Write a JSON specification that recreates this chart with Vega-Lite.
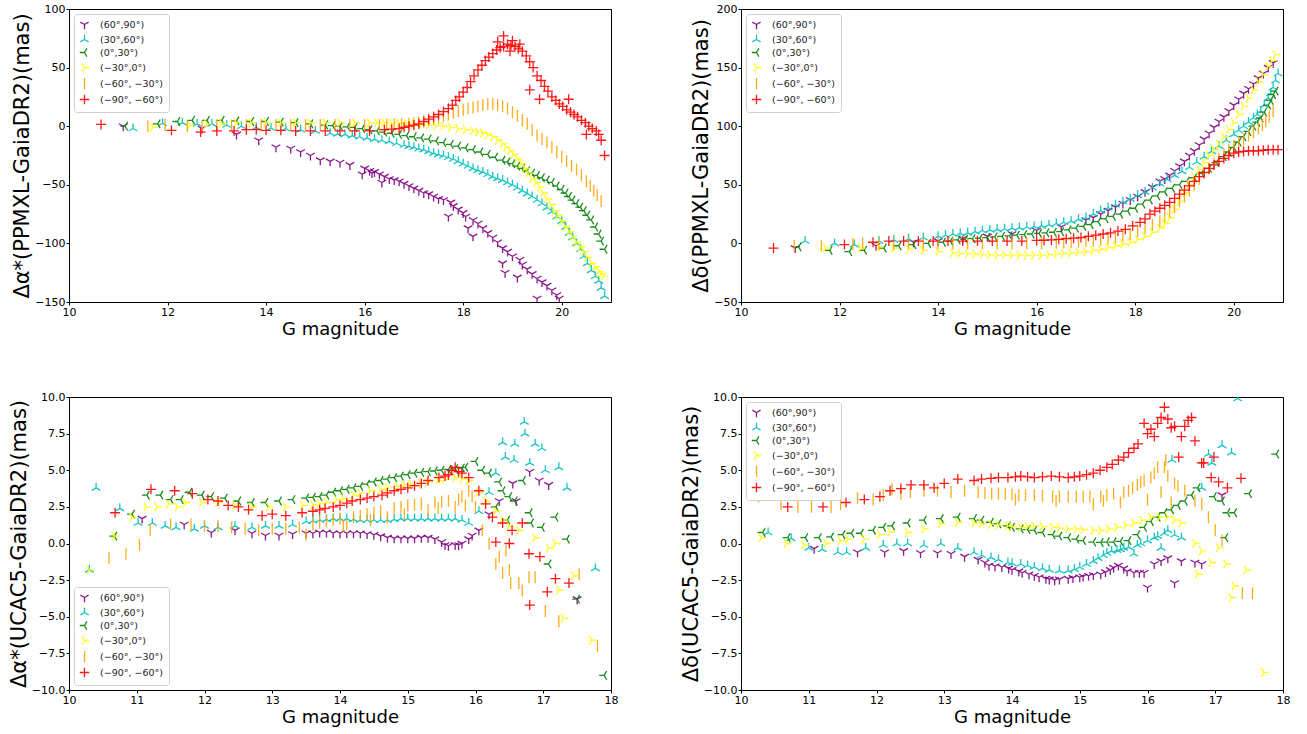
{
"$schema":"https://vega.github.io/schema/vega-lite/v6.json",
"padding":{"left":7,"top":2,"right":5,"bottom":5},
"columns":2,
"spacing":{"row":95,"column":130},
"bounds":"flush",
"resolve":{"scale":{"color":"independent","shape":"independent"},"legend":{"color":"independent","shape":"independent"}},
"config":{
"font":"DejaVu Sans",
"view":{"stroke":"black","strokeWidth":1},
"axis":{"grid":false,"domainColor":"black","tickColor":"black","labelColor":"black","titleColor":"black","labelFontSize":11,"titleFontWeight":"normal","tickSize":3,"labelPadding":1,"labelFlush":false,"labelOverlap":false},
"axisX":{"titleFontSize":18,"titlePadding":3},
"axisY":{"titleFontSize":21,"titlePadding":2},
"legend":{"fillColor":"white","strokeColor":"#d0d0d0","cornerRadius":3,"padding":5,"offset":5,"labelFontSize":9.5,"symbolSize":90,"rowPadding":0,"labelOffset":10,"symbolStrokeWidth":1.3,"labelColor":"#222"}
},
"concat":[
{
"width":542,"height":293,
"data":{"values":[
{"r":1,"g":11.1,"v":0},{"r":1,"g":12.7,"v":-2},{"r":1,"g":13.4,"v":-7},{"r":1,"g":13.85,"v":-12},{"r":1,"g":14.2,"v":-18},{"r":1,"g":14.5,"v":-19},{"r":1,"g":14.7,"v":-22},{"r":1,"g":14.9,"v":-25},{"r":1,"g":15.1,"v":-29},{"r":1,"g":15.3,"v":-30},{"r":1,"g":15.5,"v":-31},{"r":1,"g":15.7,"v":-33},{"r":1,"g":15.95,"v":-41},{"r":1,"g":16.15,"v":-40},{"r":1,"g":16.35,"v":-48},{"r":1,"g":16.0,"v":-36},{"r":1,"g":16.2,"v":-39},{"r":1,"g":16.4,"v":-43},{"r":1,"g":16.6,"v":-46},{"r":1,"g":16.8,"v":-49},{"r":1,"g":17.0,"v":-53},{"r":1,"g":17.2,"v":-57},{"r":1,"g":17.4,"v":-60},{"r":1,"g":17.6,"v":-63},{"r":1,"g":17.7,"v":-77},{"r":1,"g":17.8,"v":-68},{"r":1,"g":18.0,"v":-74},{"r":1,"g":18.1,"v":-87},{"r":1,"g":18.2,"v":-80},{"r":1,"g":18.2,"v":-94},{"r":1,"g":18.4,"v":-87},{"r":1,"g":18.6,"v":-95},{"r":1,"g":18.8,"v":-104},{"r":1,"g":18.8,"v":-117},{"r":1,"g":18.85,"v":-125},{"r":1,"g":19.0,"v":-111},{"r":1,"g":19.1,"v":-129},{"r":1,"g":19.2,"v":-118},{"r":1,"g":19.4,"v":-126},{"r":1,"g":19.5,"v":-147},{"r":1,"g":19.6,"v":-133},{"r":1,"g":19.8,"v":-140},{"r":1,"g":19.95,"v":-147},
{"r":1,"g":16.1,"v":-38},{"r":1,"g":16.3,"v":-41},{"r":1,"g":16.5,"v":-45},{"r":1,"g":16.7,"v":-47},{"r":1,"g":16.9,"v":-51},{"r":1,"g":17.1,"v":-55},{"r":1,"g":17.3,"v":-58},{"r":1,"g":17.5,"v":-62},{"r":1,"g":17.75,"v":-65},{"r":1,"g":17.9,"v":-71},{"r":1,"g":18.05,"v":-77},{"r":1,"g":18.3,"v":-83},{"r":1,"g":18.5,"v":-91},{"r":1,"g":18.7,"v":-99},{"r":1,"g":18.9,"v":-107},{"r":1,"g":19.15,"v":-114},{"r":1,"g":19.3,"v":-122},{"r":1,"g":19.5,"v":-130},{"r":1,"g":19.7,"v":-136},{"r":1,"g":19.9,"v":-144},
{"r":2,"g":11.3,"v":-2},{"r":2,"g":11.9,"v":2.5},{"r":2,"g":12.3,"v":3},{"r":2,"g":12.6,"v":2},{"r":2,"g":12.9,"v":2},{"r":2,"g":13.2,"v":1},{"r":2,"g":13.5,"v":0},{"r":2,"g":13.8,"v":-1},{"r":2,"g":14.1,"v":-1.5},{"r":2,"g":14.4,"v":-2},{"r":2,"g":14.7,"v":-3},{"r":2,"g":15.0,"v":-4},{"r":2,"g":15.3,"v":-6},{"r":2,"g":15.6,"v":-7},{"r":2,"g":15.9,"v":-9},{"r":2,"g":16.2,"v":-11},{"r":2,"g":16.5,"v":-13},{"r":2,"g":16.8,"v":-16},{"r":2,"g":17.0,"v":-18},{"r":2,"g":17.2,"v":-20},{"r":2,"g":17.4,"v":-23},{"r":2,"g":17.6,"v":-25},{"r":2,"g":17.8,"v":-28},{"r":2,"g":18.0,"v":-32},{"r":2,"g":18.2,"v":-36},{"r":2,"g":18.4,"v":-39},{"r":2,"g":18.6,"v":-43},{"r":2,"g":18.8,"v":-46},{"r":2,"g":19.0,"v":-50},{"r":2,"g":19.2,"v":-55},{"r":2,"g":19.4,"v":-60},{"r":2,"g":19.6,"v":-66},{"r":2,"g":19.8,"v":-73},{"r":2,"g":20.0,"v":-81},{"r":2,"g":20.15,"v":-91},{"r":2,"g":20.3,"v":-100},{"r":2,"g":20.45,"v":-111},{"r":2,"g":20.6,"v":-123},{"r":2,"g":20.75,"v":-132},{"r":2,"g":20.87,"v":-145},
{"r":2,"g":15.45,"v":-6.5},{"r":2,"g":15.75,"v":-8},{"r":2,"g":16.05,"v":-10},{"r":2,"g":16.35,"v":-12},{"r":2,"g":16.65,"v":-14.5},{"r":2,"g":16.9,"v":-17},{"r":2,"g":17.1,"v":-19},{"r":2,"g":17.3,"v":-21.5},{"r":2,"g":17.5,"v":-24},{"r":2,"g":17.7,"v":-26.5},{"r":2,"g":17.9,"v":-30},{"r":2,"g":18.1,"v":-34},{"r":2,"g":18.3,"v":-37.5},{"r":2,"g":18.5,"v":-41},{"r":2,"g":18.7,"v":-44.5},{"r":2,"g":18.9,"v":-48},{"r":2,"g":19.1,"v":-52.5},{"r":2,"g":19.3,"v":-57.5},{"r":2,"g":19.5,"v":-63},{"r":2,"g":19.7,"v":-69.5},{"r":2,"g":19.9,"v":-77},{"r":2,"g":20.08,"v":-86},{"r":2,"g":20.22,"v":-95},{"r":2,"g":20.38,"v":-105},{"r":2,"g":20.52,"v":-117},{"r":2,"g":20.68,"v":-128},{"r":2,"g":20.8,"v":-138},
{"r":3,"g":11.14,"v":0},{"r":3,"g":11.8,"v":2},{"r":3,"g":12.2,"v":4},{"r":3,"g":12.5,"v":5},{"r":3,"g":12.8,"v":5},{"r":3,"g":13.1,"v":5},{"r":3,"g":13.4,"v":4.5},{"r":3,"g":13.7,"v":4},{"r":3,"g":14.0,"v":4},{"r":3,"g":14.3,"v":3.5},{"r":3,"g":14.6,"v":3},{"r":3,"g":14.9,"v":2},{"r":3,"g":15.2,"v":1},{"r":3,"g":15.5,"v":0},{"r":3,"g":15.8,"v":-1},{"r":3,"g":16.1,"v":-3},{"r":3,"g":16.4,"v":-5},{"r":3,"g":16.7,"v":-7},{"r":3,"g":17.0,"v":-9},{"r":3,"g":17.3,"v":-11},{"r":3,"g":17.6,"v":-14},{"r":3,"g":17.9,"v":-17},{"r":3,"g":18.2,"v":-20},{"r":3,"g":18.5,"v":-24},{"r":3,"g":18.8,"v":-29},{"r":3,"g":19.0,"v":-32},{"r":3,"g":19.2,"v":-36},{"r":3,"g":19.4,"v":-40},{"r":3,"g":19.6,"v":-44},{"r":3,"g":19.8,"v":-48},{"r":3,"g":20.0,"v":-54},{"r":3,"g":20.15,"v":-60},{"r":3,"g":20.3,"v":-66},{"r":3,"g":20.45,"v":-72},{"r":3,"g":20.6,"v":-80},{"r":3,"g":20.75,"v":-92},{"r":3,"g":20.87,"v":-105},
{"r":3,"g":15.35,"v":0.5},{"r":3,"g":15.65,"v":-0.5},{"r":3,"g":15.95,"v":-2},{"r":3,"g":16.25,"v":-4},{"r":3,"g":16.55,"v":-6},{"r":3,"g":16.85,"v":-8},{"r":3,"g":17.15,"v":-10},{"r":3,"g":17.45,"v":-12.5},{"r":3,"g":17.75,"v":-15.5},{"r":3,"g":18.05,"v":-18.5},{"r":3,"g":18.35,"v":-22},{"r":3,"g":18.65,"v":-26.5},{"r":3,"g":18.9,"v":-30.5},{"r":3,"g":19.1,"v":-34},{"r":3,"g":19.3,"v":-38},{"r":3,"g":19.5,"v":-42},{"r":3,"g":19.7,"v":-46},{"r":3,"g":19.9,"v":-51},{"r":3,"g":20.08,"v":-57},{"r":3,"g":20.22,"v":-63},{"r":3,"g":20.38,"v":-69},{"r":3,"g":20.52,"v":-76},{"r":3,"g":20.68,"v":-86},{"r":3,"g":20.8,"v":-98},
{"r":4,"g":11.7,"v":-1},{"r":4,"g":12.45,"v":1},{"r":4,"g":12.8,"v":2},{"r":4,"g":13.1,"v":2.5},{"r":4,"g":13.4,"v":3},{"r":4,"g":13.7,"v":3},{"r":4,"g":14.0,"v":3},{"r":4,"g":14.3,"v":3},{"r":4,"g":14.6,"v":3},{"r":4,"g":14.9,"v":3},{"r":4,"g":15.2,"v":3},{"r":4,"g":15.5,"v":3},{"r":4,"g":15.8,"v":3},{"r":4,"g":16.1,"v":3},{"r":4,"g":16.4,"v":3},{"r":4,"g":16.7,"v":2.5},{"r":4,"g":17.0,"v":2},{"r":4,"g":17.3,"v":1},{"r":4,"g":17.6,"v":0},{"r":4,"g":17.9,"v":-2},{"r":4,"g":18.2,"v":-4},{"r":4,"g":18.4,"v":-6},{"r":4,"g":18.6,"v":-9},{"r":4,"g":18.8,"v":-15},{"r":4,"g":18.95,"v":-21},{"r":4,"g":19.1,"v":-28},{"r":4,"g":19.25,"v":-36},{"r":4,"g":19.4,"v":-45},{"r":4,"g":19.55,"v":-52},{"r":4,"g":19.7,"v":-62},{"r":4,"g":19.85,"v":-72},{"r":4,"g":20.0,"v":-81},{"r":4,"g":20.15,"v":-90},{"r":4,"g":20.3,"v":-99},{"r":4,"g":20.45,"v":-107},{"r":4,"g":20.6,"v":-117},{"r":4,"g":20.75,"v":-124},{"r":4,"g":20.85,"v":-128},
{"r":4,"g":16.25,"v":3},{"r":4,"g":16.55,"v":2.8},{"r":4,"g":16.85,"v":2.2},{"r":4,"g":17.15,"v":1.5},{"r":4,"g":17.45,"v":0.5},{"r":4,"g":17.75,"v":-1},{"r":4,"g":18.05,"v":-3},{"r":4,"g":18.3,"v":-5},{"r":4,"g":18.5,"v":-7.5},{"r":4,"g":18.7,"v":-12},{"r":4,"g":18.87,"v":-18},{"r":4,"g":19.02,"v":-24},{"r":4,"g":19.18,"v":-32},{"r":4,"g":19.32,"v":-40},{"r":4,"g":19.48,"v":-48},{"r":4,"g":19.62,"v":-57},{"r":4,"g":19.78,"v":-67},{"r":4,"g":19.92,"v":-76},{"r":4,"g":20.08,"v":-86},{"r":4,"g":20.22,"v":-94},{"r":4,"g":20.38,"v":-103},{"r":4,"g":20.52,"v":-112},{"r":4,"g":20.68,"v":-120},{"r":4,"g":20.8,"v":-126},
{"r":5,"g":11.6,"v":0},{"r":5,"g":11.95,"v":1},{"r":5,"g":12.4,"v":0},{"r":5,"g":12.7,"v":0},{"r":5,"g":13.0,"v":0.5},{"r":5,"g":13.3,"v":0.5},{"r":5,"g":13.6,"v":1},{"r":5,"g":13.9,"v":1},{"r":5,"g":14.2,"v":1},{"r":5,"g":14.5,"v":1},{"r":5,"g":14.8,"v":1},{"r":5,"g":15.1,"v":1},{"r":5,"g":15.4,"v":1},{"r":5,"g":15.7,"v":1},{"r":5,"g":16.0,"v":1},{"r":5,"g":16.3,"v":1},{"r":5,"g":16.6,"v":1.5},{"r":5,"g":16.9,"v":2},{"r":5,"g":17.1,"v":3},{"r":5,"g":17.3,"v":5},{"r":5,"g":17.5,"v":7},{"r":5,"g":17.7,"v":10},{"r":5,"g":17.9,"v":13},{"r":5,"g":18.1,"v":15},{"r":5,"g":18.3,"v":17},{"r":5,"g":18.5,"v":19},{"r":5,"g":18.7,"v":18},{"r":5,"g":18.9,"v":15},{"r":5,"g":19.1,"v":9},{"r":5,"g":19.3,"v":2},{"r":5,"g":19.5,"v":-8},{"r":5,"g":19.7,"v":-14},{"r":5,"g":19.9,"v":-22},{"r":5,"g":20.1,"v":-30},{"r":5,"g":20.3,"v":-37},{"r":5,"g":20.5,"v":-47},{"r":5,"g":20.65,"v":-55},{"r":5,"g":20.8,"v":-64},
{"r":5,"g":16.45,"v":1.2},{"r":5,"g":16.75,"v":1.8},{"r":5,"g":17.0,"v":2.5},{"r":5,"g":17.2,"v":4},{"r":5,"g":17.4,"v":6},{"r":5,"g":17.6,"v":8.5},{"r":5,"g":17.8,"v":11.5},{"r":5,"g":18.0,"v":14},{"r":5,"g":18.2,"v":16},{"r":5,"g":18.4,"v":18},{"r":5,"g":18.6,"v":19},{"r":5,"g":18.8,"v":17},{"r":5,"g":19.0,"v":12},{"r":5,"g":19.2,"v":5},{"r":5,"g":19.4,"v":-3},{"r":5,"g":19.6,"v":-11},{"r":5,"g":19.8,"v":-18},{"r":5,"g":20.0,"v":-26},{"r":5,"g":20.2,"v":-34},{"r":5,"g":20.4,"v":-42},{"r":5,"g":20.58,"v":-51},{"r":5,"g":20.72,"v":-59},
{"r":6,"g":10.65,"v":1.5},{"r":6,"g":12.08,"v":-3.5},{"r":6,"g":12.67,"v":-5},{"r":6,"g":13.0,"v":-4},{"r":6,"g":13.35,"v":-4},{"r":6,"g":13.6,"v":-3},{"r":6,"g":13.8,"v":-3},{"r":6,"g":14.0,"v":-3.5},{"r":6,"g":14.3,"v":-3.5},{"r":6,"g":14.6,"v":-4},{"r":6,"g":14.9,"v":-4},{"r":6,"g":15.2,"v":-4},{"r":6,"g":15.5,"v":-4},{"r":6,"g":15.8,"v":-4},{"r":6,"g":16.1,"v":-4},{"r":6,"g":16.4,"v":-3},{"r":6,"g":16.7,"v":-2},{"r":6,"g":16.9,"v":0},{"r":6,"g":17.1,"v":2},{"r":6,"g":17.3,"v":6},{"r":6,"g":17.5,"v":10},{"r":6,"g":17.7,"v":15},{"r":6,"g":17.85,"v":22},{"r":6,"g":18.0,"v":29},{"r":6,"g":18.15,"v":38},{"r":6,"g":18.3,"v":48},{"r":6,"g":18.45,"v":56},{"r":6,"g":18.6,"v":62},{"r":6,"g":18.75,"v":67},{"r":6,"g":18.82,"v":77},{"r":6,"g":18.9,"v":70},{"r":6,"g":19.05,"v":68},{"r":6,"g":19.2,"v":64},{"r":6,"g":19.35,"v":55},{"r":6,"g":19.35,"v":31},{"r":6,"g":19.5,"v":43},{"r":6,"g":19.55,"v":23},{"r":6,"g":19.65,"v":34},{"r":6,"g":19.8,"v":25},{"r":6,"g":19.95,"v":19},{"r":6,"g":20.14,"v":23},{"r":6,"g":20.1,"v":14},{"r":6,"g":20.25,"v":10},{"r":6,"g":20.4,"v":5},{"r":6,"g":20.5,"v":-7},{"r":6,"g":20.55,"v":0},{"r":6,"g":20.7,"v":-4},{"r":6,"g":20.8,"v":-12},{"r":6,"g":20.87,"v":-25},
{"r":6,"g":16.55,"v":-2.5},{"r":6,"g":16.8,"v":-1},{"r":6,"g":17.0,"v":1},{"r":6,"g":17.2,"v":4},{"r":6,"g":17.4,"v":8},{"r":6,"g":17.6,"v":12.5},{"r":6,"g":17.78,"v":18},{"r":6,"g":17.92,"v":25},{"r":6,"g":18.08,"v":33},{"r":6,"g":18.22,"v":43},{"r":6,"g":18.38,"v":52},{"r":6,"g":18.52,"v":59},{"r":6,"g":18.68,"v":65},{"r":6,"g":18.82,"v":68},{"r":6,"g":18.97,"v":69},{"r":6,"g":19.12,"v":66},{"r":6,"g":19.28,"v":60},{"r":6,"g":19.42,"v":50},{"r":6,"g":19.58,"v":39},{"r":6,"g":19.72,"v":30},{"r":6,"g":19.88,"v":22},{"r":6,"g":20.02,"v":17},{"r":6,"g":20.18,"v":12},{"r":6,"g":20.32,"v":8},{"r":6,"g":20.48,"v":3},{"r":6,"g":20.62,"v":-2},{"r":6,"g":20.75,"v":-7},{"r":6,"g":18.7,"v":72},{"r":6,"g":19.0,"v":73},{"r":6,"g":18.95,"v":64},{"r":6,"g":19.15,"v":70}
]},
"mark":{"type":"point","filled":false,"strokeWidth":1.3,"size":100,"opacity":0.9,"clip":true},
"encoding":{
"x":{"field":"g","type":"quantitative","scale":{"domain":[10,21],"nice":false,"zero":false},"axis":{"values":[10,12,14,16,18,20],"format":"d","title":"G magnitude"}},
"y":{"field":"v","type":"quantitative","scale":{"domain":[-150,100],"nice":false,"zero":false},"axis":{"values":[-150,-100,-50,0,50,100],"format":"d","title":"Δα*(PPMXL-GaiaDR2)(mas)"}},
"color":{"field":"r","type":"nominal","scale":{"domain":[1,2,3,4,5,6],"range":["#800080","#00bfbf","#008000","#ffff00","#ffa500","#ff0000"]},"legend":{"orient":"top-left","title":null,"labelExpr":"['','(60°,90°)','(30°,60°)','(0°,30°)','(−30°,0°)','(−60°, −30°)','(−90°, −60°)'][datum.value]"}},
"shape":{"field":"r","type":"nominal","scale":{"domain":[1,2,3,4,5,6],"range":["M0,0L0,1M0,0L-0.87,-0.5M0,0L0.87,-0.5","M0,0L0,-1M0,0L-0.87,0.5M0,0L0.87,0.5","M0,0L-1,0M0,0L0.5,-0.87M0,0L0.5,0.87","M0,0L1,0M0,0L-0.5,-0.87M0,0L-0.5,0.87","M0,-1.2L0,1.2","M-1,0L1,0M0,-1L0,1"]},"legend":{"orient":"top-left","title":null,"labelExpr":"['','(60°,90°)','(30°,60°)','(0°,30°)','(−30°,0°)','(−60°, −30°)','(−90°, −60°)'][datum.value]"}}
}
},
{
"width":542,"height":293,
"data":{"values":[
{"r":1,"g":11.1,"v":-4},{"r":1,"g":12.74,"v":-2},{"r":1,"g":13.5,"v":1},{"r":1,"g":14.0,"v":2},{"r":1,"g":14.5,"v":4},{"r":1,"g":15.0,"v":6},{"r":1,"g":15.5,"v":8},{"r":1,"g":16.0,"v":11},{"r":1,"g":16.5,"v":14},{"r":1,"g":17.0,"v":20},{"r":1,"g":17.3,"v":25},{"r":1,"g":17.6,"v":31},{"r":1,"g":17.9,"v":37},{"r":1,"g":18.2,"v":44},{"r":1,"g":18.5,"v":53},{"r":1,"g":18.7,"v":58},{"r":1,"g":18.9,"v":66},{"r":1,"g":19.1,"v":75},{"r":1,"g":19.3,"v":84},{"r":1,"g":19.5,"v":94},{"r":1,"g":19.7,"v":104},{"r":1,"g":19.9,"v":113},{"r":1,"g":20.1,"v":123},{"r":1,"g":20.3,"v":132},{"r":1,"g":20.5,"v":141},{"r":1,"g":20.7,"v":150},{"r":1,"g":20.8,"v":154},
{"r":1,"g":17.15,"v":22},{"r":1,"g":17.45,"v":28},{"r":1,"g":17.75,"v":34},{"r":1,"g":18.05,"v":40},{"r":1,"g":18.35,"v":48},{"r":1,"g":18.6,"v":55},{"r":1,"g":18.8,"v":62},{"r":1,"g":19.0,"v":70},{"r":1,"g":19.2,"v":79},{"r":1,"g":19.4,"v":89},{"r":1,"g":19.6,"v":99},{"r":1,"g":19.8,"v":108},{"r":1,"g":20.0,"v":118},{"r":1,"g":20.2,"v":128},{"r":1,"g":20.4,"v":136},{"r":1,"g":20.6,"v":145},
{"r":2,"g":11.3,"v":2},{"r":2,"g":11.9,"v":0},{"r":2,"g":12.3,"v":-1},{"r":2,"g":12.8,"v":2},{"r":2,"g":13.1,"v":3},{"r":2,"g":13.4,"v":4},{"r":2,"g":13.7,"v":5},{"r":2,"g":14.0,"v":6},{"r":2,"g":14.3,"v":8},{"r":2,"g":14.6,"v":9},{"r":2,"g":14.9,"v":11},{"r":2,"g":15.2,"v":12},{"r":2,"g":15.5,"v":13},{"r":2,"g":15.8,"v":14},{"r":2,"g":16.1,"v":15},{"r":2,"g":16.4,"v":17},{"r":2,"g":16.7,"v":19},{"r":2,"g":17.0,"v":22},{"r":2,"g":17.3,"v":28},{"r":2,"g":17.6,"v":33},{"r":2,"g":17.9,"v":38},{"r":2,"g":18.2,"v":44},{"r":2,"g":18.5,"v":51},{"r":2,"g":18.8,"v":58},{"r":2,"g":19.1,"v":65},{"r":2,"g":19.4,"v":74},{"r":2,"g":19.7,"v":83},{"r":2,"g":20.0,"v":93},{"r":2,"g":20.2,"v":100},{"r":2,"g":20.4,"v":107},{"r":2,"g":20.55,"v":113},{"r":2,"g":20.7,"v":124},{"r":2,"g":20.8,"v":133},{"r":2,"g":20.9,"v":145},
{"r":2,"g":14.15,"v":7},{"r":2,"g":14.45,"v":8.5},{"r":2,"g":14.75,"v":10},{"r":2,"g":15.05,"v":11.5},{"r":2,"g":15.35,"v":12.5},{"r":2,"g":15.65,"v":13.5},{"r":2,"g":15.95,"v":14.5},{"r":2,"g":16.25,"v":16},{"r":2,"g":16.55,"v":18},{"r":2,"g":16.85,"v":20.5},{"r":2,"g":17.15,"v":25},{"r":2,"g":17.45,"v":30.5},{"r":2,"g":17.75,"v":35.5},{"r":2,"g":18.05,"v":41},{"r":2,"g":18.35,"v":47.5},{"r":2,"g":18.65,"v":54.5},{"r":2,"g":18.95,"v":61.5},{"r":2,"g":19.25,"v":69.5},{"r":2,"g":19.55,"v":78.5},{"r":2,"g":19.85,"v":88},{"r":2,"g":20.1,"v":96.5},{"r":2,"g":20.3,"v":103.5},{"r":2,"g":20.48,"v":110},{"r":2,"g":20.62,"v":118},{"r":2,"g":20.75,"v":128},{"r":2,"g":20.85,"v":139},
{"r":3,"g":11.17,"v":-3},{"r":3,"g":11.8,"v":-6},{"r":3,"g":12.2,"v":-7},{"r":3,"g":12.5,"v":-6},{"r":3,"g":12.9,"v":-4},{"r":3,"g":13.2,"v":-2},{"r":3,"g":13.5,"v":-1},{"r":3,"g":13.8,"v":0},{"r":3,"g":14.1,"v":1},{"r":3,"g":14.4,"v":3},{"r":3,"g":14.7,"v":4},{"r":3,"g":15.0,"v":5},{"r":3,"g":15.3,"v":6},{"r":3,"g":15.6,"v":7},{"r":3,"g":15.9,"v":8},{"r":3,"g":16.2,"v":9},{"r":3,"g":16.5,"v":10},{"r":3,"g":16.8,"v":13},{"r":3,"g":17.1,"v":16},{"r":3,"g":17.4,"v":21},{"r":3,"g":17.7,"v":25},{"r":3,"g":18.0,"v":30},{"r":3,"g":18.3,"v":37},{"r":3,"g":18.6,"v":44},{"r":3,"g":18.9,"v":50},{"r":3,"g":19.2,"v":56},{"r":3,"g":19.5,"v":64},{"r":3,"g":19.8,"v":74},{"r":3,"g":20.0,"v":82},{"r":3,"g":20.2,"v":91},{"r":3,"g":20.4,"v":100},{"r":3,"g":20.55,"v":107},{"r":3,"g":20.7,"v":118},{"r":3,"g":20.8,"v":127},{"r":3,"g":20.85,"v":130},
{"r":3,"g":14.25,"v":2},{"r":3,"g":14.55,"v":3.5},{"r":3,"g":14.85,"v":4.5},{"r":3,"g":15.15,"v":5.5},{"r":3,"g":15.45,"v":6.5},{"r":3,"g":15.75,"v":7.5},{"r":3,"g":16.05,"v":8.5},{"r":3,"g":16.35,"v":9.5},{"r":3,"g":16.65,"v":11.5},{"r":3,"g":16.95,"v":14.5},{"r":3,"g":17.25,"v":18.5},{"r":3,"g":17.55,"v":23},{"r":3,"g":17.85,"v":27.5},{"r":3,"g":18.15,"v":33.5},{"r":3,"g":18.45,"v":40.5},{"r":3,"g":18.75,"v":47},{"r":3,"g":19.05,"v":53},{"r":3,"g":19.35,"v":60},{"r":3,"g":19.65,"v":69},{"r":3,"g":19.9,"v":78},{"r":3,"g":20.1,"v":86.5},{"r":3,"g":20.3,"v":95.5},{"r":3,"g":20.48,"v":103.5},{"r":3,"g":20.62,"v":112},{"r":3,"g":20.75,"v":122},
{"r":4,"g":11.72,"v":-4},{"r":4,"g":12.43,"v":-4},{"r":4,"g":12.8,"v":-3},{"r":4,"g":13.1,"v":-4},{"r":4,"g":13.4,"v":-5},{"r":4,"g":13.7,"v":-6},{"r":4,"g":14.0,"v":-7},{"r":4,"g":14.3,"v":-8},{"r":4,"g":14.6,"v":-9},{"r":4,"g":14.9,"v":-9.5},{"r":4,"g":15.2,"v":-10},{"r":4,"g":15.5,"v":-10},{"r":4,"g":15.8,"v":-10},{"r":4,"g":16.1,"v":-10},{"r":4,"g":16.4,"v":-9},{"r":4,"g":16.7,"v":-8},{"r":4,"g":17.0,"v":-7},{"r":4,"g":17.3,"v":-5},{"r":4,"g":17.6,"v":-2},{"r":4,"g":17.9,"v":1},{"r":4,"g":18.2,"v":6},{"r":4,"g":18.5,"v":13},{"r":4,"g":18.7,"v":22},{"r":4,"g":18.9,"v":36},{"r":4,"g":19.1,"v":50},{"r":4,"g":19.3,"v":63},{"r":4,"g":19.5,"v":75},{"r":4,"g":19.7,"v":85},{"r":4,"g":19.9,"v":97},{"r":4,"g":20.1,"v":110},{"r":4,"g":20.3,"v":124},{"r":4,"g":20.5,"v":138},{"r":4,"g":20.7,"v":151},{"r":4,"g":20.85,"v":161},
{"r":4,"g":14.45,"v":-8.5},{"r":4,"g":14.75,"v":-9.2},{"r":4,"g":15.05,"v":-9.8},{"r":4,"g":15.35,"v":-10},{"r":4,"g":15.65,"v":-10},{"r":4,"g":15.95,"v":-10},{"r":4,"g":16.25,"v":-9.5},{"r":4,"g":16.55,"v":-8.5},{"r":4,"g":16.85,"v":-7.5},{"r":4,"g":17.15,"v":-6},{"r":4,"g":17.45,"v":-3.5},{"r":4,"g":17.75,"v":-0.5},{"r":4,"g":18.05,"v":3.5},{"r":4,"g":18.35,"v":9.5},{"r":4,"g":18.6,"v":17},{"r":4,"g":18.8,"v":29},{"r":4,"g":19.0,"v":43},{"r":4,"g":19.2,"v":57},{"r":4,"g":19.4,"v":69},{"r":4,"g":19.6,"v":80},{"r":4,"g":19.8,"v":91},{"r":4,"g":20.0,"v":103},{"r":4,"g":20.2,"v":117},{"r":4,"g":20.4,"v":131},{"r":4,"g":20.6,"v":144},{"r":4,"g":20.78,"v":156},
{"r":5,"g":11.08,"v":-2},{"r":5,"g":11.63,"v":-2},{"r":5,"g":12.27,"v":-0.5},{"r":5,"g":12.47,"v":0},{"r":5,"g":12.8,"v":-1},{"r":5,"g":13.1,"v":-1},{"r":5,"g":13.4,"v":0},{"r":5,"g":13.7,"v":0},{"r":5,"g":14.0,"v":0},{"r":5,"g":14.3,"v":0},{"r":5,"g":14.6,"v":0},{"r":5,"g":14.9,"v":0},{"r":5,"g":15.2,"v":0},{"r":5,"g":15.5,"v":0},{"r":5,"g":15.8,"v":0},{"r":5,"g":16.1,"v":0},{"r":5,"g":16.4,"v":0.5},{"r":5,"g":16.7,"v":1},{"r":5,"g":17.0,"v":2},{"r":5,"g":17.3,"v":3},{"r":5,"g":17.6,"v":5},{"r":5,"g":17.9,"v":8},{"r":5,"g":18.2,"v":13},{"r":5,"g":18.5,"v":19},{"r":5,"g":18.7,"v":27},{"r":5,"g":18.9,"v":36},{"r":5,"g":19.1,"v":45},{"r":5,"g":19.3,"v":55},{"r":5,"g":19.5,"v":64},{"r":5,"g":19.7,"v":72},{"r":5,"g":19.9,"v":80},{"r":5,"g":20.1,"v":86},{"r":5,"g":20.3,"v":92},{"r":5,"g":20.5,"v":98},{"r":5,"g":20.65,"v":104},{"r":5,"g":20.8,"v":113},
{"r":5,"g":16.55,"v":0.7},{"r":5,"g":16.85,"v":1.5},{"r":5,"g":17.15,"v":2.5},{"r":5,"g":17.45,"v":4},{"r":5,"g":17.75,"v":6.5},{"r":5,"g":18.05,"v":10.5},{"r":5,"g":18.35,"v":16},{"r":5,"g":18.6,"v":23},{"r":5,"g":18.8,"v":31},{"r":5,"g":19.0,"v":40},{"r":5,"g":19.2,"v":50},{"r":5,"g":19.4,"v":60},{"r":5,"g":19.6,"v":68},{"r":5,"g":19.8,"v":76},{"r":5,"g":20.0,"v":83},{"r":5,"g":20.2,"v":89},{"r":5,"g":20.4,"v":95},{"r":5,"g":20.58,"v":101},{"r":5,"g":20.72,"v":108},
{"r":6,"g":10.66,"v":-4},{"r":6,"g":12.1,"v":-1},{"r":6,"g":12.68,"v":1},{"r":6,"g":13.0,"v":2},{"r":6,"g":13.3,"v":2},{"r":6,"g":13.6,"v":2},{"r":6,"g":13.9,"v":2},{"r":6,"g":14.2,"v":2},{"r":6,"g":14.5,"v":2},{"r":6,"g":14.8,"v":2},{"r":6,"g":15.1,"v":2},{"r":6,"g":15.4,"v":2},{"r":6,"g":15.7,"v":2},{"r":6,"g":16.0,"v":2.5},{"r":6,"g":16.3,"v":3},{"r":6,"g":16.6,"v":4},{"r":6,"g":16.9,"v":5},{"r":6,"g":17.2,"v":7},{"r":6,"g":17.5,"v":9},{"r":6,"g":17.8,"v":12},{"r":6,"g":18.1,"v":18},{"r":6,"g":18.3,"v":25},{"r":6,"g":18.5,"v":30},{"r":6,"g":18.7,"v":35},{"r":6,"g":18.9,"v":42},{"r":6,"g":19.1,"v":49},{"r":6,"g":19.3,"v":57},{"r":6,"g":19.5,"v":64},{"r":6,"g":19.7,"v":70},{"r":6,"g":19.9,"v":75},{"r":6,"g":20.1,"v":78},{"r":6,"g":20.3,"v":79},{"r":6,"g":20.5,"v":79},{"r":6,"g":20.7,"v":80},{"r":6,"g":20.9,"v":80},
{"r":6,"g":16.15,"v":2.7},{"r":6,"g":16.45,"v":3.5},{"r":6,"g":16.75,"v":4.5},{"r":6,"g":17.05,"v":6},{"r":6,"g":17.35,"v":8},{"r":6,"g":17.65,"v":10.5},{"r":6,"g":17.95,"v":15},{"r":6,"g":18.2,"v":21},{"r":6,"g":18.4,"v":27.5},{"r":6,"g":18.6,"v":32.5},{"r":6,"g":18.8,"v":38.5},{"r":6,"g":19.0,"v":45.5},{"r":6,"g":19.2,"v":53},{"r":6,"g":19.4,"v":60.5},{"r":6,"g":19.6,"v":67},{"r":6,"g":19.8,"v":72.5},{"r":6,"g":20.0,"v":77},{"r":6,"g":20.2,"v":78.5},{"r":6,"g":20.4,"v":79},{"r":6,"g":20.6,"v":79.5},{"r":6,"g":20.8,"v":80}
]},
"mark":{"type":"point","filled":false,"strokeWidth":1.3,"size":100,"opacity":0.9,"clip":true},
"encoding":{
"x":{"field":"g","type":"quantitative","scale":{"domain":[10,21],"nice":false,"zero":false},"axis":{"values":[10,12,14,16,18,20],"format":"d","title":"G magnitude"}},
"y":{"field":"v","type":"quantitative","scale":{"domain":[-50,200],"nice":false,"zero":false},"axis":{"values":[-50,0,50,100,150,200],"format":"d","title":"Δδ(PPMXL-GaiaDR2)(mas)"}},
"color":{"field":"r","type":"nominal","scale":{"domain":[1,2,3,4,5,6],"range":["#800080","#00bfbf","#008000","#ffff00","#ffa500","#ff0000"]},"legend":{"orient":"top-left","title":null,"labelExpr":"['','(60°,90°)','(30°,60°)','(0°,30°)','(−30°,0°)','(−60°, −30°)','(−90°, −60°)'][datum.value]"}},
"shape":{"field":"r","type":"nominal","scale":{"domain":[1,2,3,4,5,6],"range":["M0,0L0,1M0,0L-0.87,-0.5M0,0L0.87,-0.5","M0,0L0,-1M0,0L-0.87,0.5M0,0L0.87,0.5","M0,0L-1,0M0,0L0.5,-0.87M0,0L0.5,0.87","M0,0L1,0M0,0L-0.5,-0.87M0,0L-0.5,0.87","M0,-1.2L0,1.2","M-1,0L1,0M0,-1L0,1"]},"legend":{"orient":"top-left","title":null,"labelExpr":"['','(60°,90°)','(30°,60°)','(0°,30°)','(−30°,0°)','(−60°, −30°)','(−90°, −60°)'][datum.value]"}}
}
},
{
"width":542,"height":293,
"data":{"values":[
{"r":1,"g":11.08,"v":1.7},{"r":1,"g":11.7,"v":1.3},{"r":1,"g":12.1,"v":0.75},{"r":1,"g":12.45,"v":0.9},{"r":1,"g":12.7,"v":0.7},{"r":1,"g":12.9,"v":0.55},{"r":1,"g":13.1,"v":0.55},{"r":1,"g":13.3,"v":0.65},{"r":1,"g":13.5,"v":0.7},{"r":1,"g":13.7,"v":0.75},{"r":1,"g":13.9,"v":0.7},{"r":1,"g":14.1,"v":0.7},{"r":1,"g":14.3,"v":0.7},{"r":1,"g":14.5,"v":0.6},{"r":1,"g":14.7,"v":0.4},{"r":1,"g":14.9,"v":0.35},{"r":1,"g":15.1,"v":0.35},{"r":1,"g":15.3,"v":0.4},{"r":1,"g":15.5,"v":0.1},{"r":1,"g":15.6,"v":-0.15},{"r":1,"g":15.7,"v":-0.1},{"r":1,"g":15.8,"v":0},{"r":1,"g":15.95,"v":0.55},{"r":1,"g":16.05,"v":0.9},{"r":1,"g":16.2,"v":2.0},{"r":1,"g":16.35,"v":2.9},{"r":1,"g":16.55,"v":4.1},{"r":1,"g":16.6,"v":2.9},{"r":1,"g":16.8,"v":4.9},{"r":1,"g":16.94,"v":4.3},{"r":1,"g":17.08,"v":4.0},{"r":1,"g":17.5,"v":-3.8},
{"r":1,"g":13.6,"v":0.7},{"r":1,"g":13.8,"v":0.75},{"r":1,"g":14.0,"v":0.7},{"r":1,"g":14.2,"v":0.7},{"r":1,"g":14.4,"v":0.65},{"r":1,"g":14.6,"v":0.5},{"r":1,"g":14.8,"v":0.35},{"r":1,"g":15.0,"v":0.35},{"r":1,"g":15.2,"v":0.4},{"r":1,"g":15.4,"v":0.3},{"r":1,"g":15.55,"v":-0.1},{"r":1,"g":15.75,"v":-0.1},{"r":1,"g":15.9,"v":0.3},
{"r":2,"g":10.3,"v":-1.8},{"r":2,"g":10.4,"v":3.8},{"r":2,"g":10.75,"v":2.4},{"r":2,"g":11.02,"v":1.4},{"r":2,"g":11.23,"v":1.4},{"r":2,"g":11.42,"v":1.2},{"r":2,"g":11.58,"v":1.1},{"r":2,"g":11.85,"v":1.0},{"r":2,"g":12.0,"v":1.2},{"r":2,"g":12.2,"v":1.1},{"r":2,"g":12.45,"v":1.2},{"r":2,"g":12.7,"v":1.1},{"r":2,"g":12.9,"v":1.2},{"r":2,"g":13.1,"v":1.2},{"r":2,"g":13.3,"v":1.3},{"r":2,"g":13.5,"v":1.5},{"r":2,"g":13.7,"v":1.6},{"r":2,"g":13.9,"v":1.7},{"r":2,"g":14.1,"v":1.7},{"r":2,"g":14.3,"v":1.6},{"r":2,"g":14.5,"v":1.6},{"r":2,"g":14.7,"v":1.6},{"r":2,"g":14.9,"v":1.7},{"r":2,"g":15.1,"v":1.7},{"r":2,"g":15.3,"v":1.7},{"r":2,"g":15.5,"v":1.7},{"r":2,"g":15.7,"v":1.7},{"r":2,"g":15.9,"v":1.4},{"r":2,"g":16.05,"v":2.2},{"r":2,"g":16.2,"v":3.5},{"r":2,"g":16.3,"v":4.8},{"r":2,"g":16.4,"v":6.9},{"r":2,"g":16.44,"v":5.9},{"r":2,"g":16.57,"v":5.7},{"r":2,"g":16.58,"v":6.8},{"r":2,"g":16.72,"v":8.3},{"r":2,"g":16.73,"v":7.5},{"r":2,"g":16.8,"v":5.5},{"r":2,"g":16.88,"v":6.8},{"r":2,"g":16.98,"v":6.5},{"r":2,"g":17.03,"v":5.0},{"r":2,"g":17.23,"v":5.2},{"r":2,"g":17.35,"v":3.8},{"r":2,"g":17.77,"v":-1.7},
{"r":2,"g":13.6,"v":1.55},{"r":2,"g":13.8,"v":1.65},{"r":2,"g":14.0,"v":1.7},{"r":2,"g":14.2,"v":1.65},{"r":2,"g":14.4,"v":1.6},{"r":2,"g":14.6,"v":1.6},{"r":2,"g":14.8,"v":1.65},{"r":2,"g":15.0,"v":1.7},{"r":2,"g":15.2,"v":1.7},{"r":2,"g":15.4,"v":1.7},{"r":2,"g":15.6,"v":1.7},{"r":2,"g":15.8,"v":1.6},
{"r":3,"g":10.67,"v":0.5},{"r":3,"g":10.93,"v":2.0},{"r":3,"g":11.15,"v":3.3},{"r":3,"g":11.35,"v":3.3},{"r":3,"g":11.5,"v":3.0},{"r":3,"g":11.65,"v":3.0},{"r":3,"g":11.78,"v":3.5},{"r":3,"g":11.96,"v":3.3},{"r":3,"g":12.1,"v":3.2},{"r":3,"g":12.3,"v":3.1},{"r":3,"g":12.5,"v":2.9},{"r":3,"g":12.7,"v":2.8},{"r":3,"g":12.9,"v":2.8},{"r":3,"g":13.1,"v":2.9},{"r":3,"g":13.3,"v":3.0},{"r":3,"g":13.5,"v":3.1},{"r":3,"g":13.7,"v":3.2},{"r":3,"g":13.9,"v":3.5},{"r":3,"g":14.1,"v":3.7},{"r":3,"g":14.3,"v":3.9},{"r":3,"g":14.5,"v":4.2},{"r":3,"g":14.7,"v":4.4},{"r":3,"g":14.9,"v":4.6},{"r":3,"g":15.1,"v":4.8},{"r":3,"g":15.3,"v":4.9},{"r":3,"g":15.5,"v":5.0},{"r":3,"g":15.7,"v":5.1},{"r":3,"g":15.85,"v":5.2},{"r":3,"g":16.0,"v":5.6},{"r":3,"g":16.1,"v":5.0},{"r":3,"g":16.2,"v":4.8},{"r":3,"g":16.3,"v":2.5},{"r":3,"g":16.35,"v":4.2},{"r":3,"g":16.4,"v":3.6},{"r":3,"g":16.47,"v":1.6},{"r":3,"g":16.5,"v":3.2},{"r":3,"g":16.58,"v":2.9},{"r":3,"g":16.7,"v":4.3},{"r":3,"g":16.8,"v":2.1},{"r":3,"g":16.82,"v":1.4},{"r":3,"g":16.98,"v":1.1},{"r":3,"g":17.08,"v":-1.4},{"r":3,"g":17.18,"v":1.8},{"r":3,"g":17.35,"v":0.3},{"r":3,"g":17.5,"v":-3.8},{"r":3,"g":17.9,"v":-9.0},
{"r":3,"g":13.6,"v":3.15},{"r":3,"g":13.8,"v":3.3},{"r":3,"g":14.0,"v":3.6},{"r":3,"g":14.2,"v":3.8},{"r":3,"g":14.4,"v":4.05},{"r":3,"g":14.6,"v":4.3},{"r":3,"g":14.8,"v":4.5},{"r":3,"g":15.0,"v":4.7},{"r":3,"g":15.2,"v":4.85},{"r":3,"g":15.4,"v":4.95},{"r":3,"g":15.6,"v":5.05},{"r":3,"g":15.8,"v":5.15},
{"r":4,"g":10.3,"v":-1.8},{"r":4,"g":10.67,"v":0.5},{"r":4,"g":10.93,"v":1.8},{"r":4,"g":11.14,"v":2.5},{"r":4,"g":11.3,"v":2.5},{"r":4,"g":11.47,"v":2.7},{"r":4,"g":11.6,"v":2.5},{"r":4,"g":11.72,"v":2.8},{"r":4,"g":11.96,"v":2.8},{"r":4,"g":12.2,"v":2.8},{"r":4,"g":12.45,"v":2.6},{"r":4,"g":12.7,"v":2.5},{"r":4,"g":12.95,"v":2.5},{"r":4,"g":13.2,"v":2.5},{"r":4,"g":13.45,"v":2.6},{"r":4,"g":13.7,"v":2.7},{"r":4,"g":13.95,"v":3.0},{"r":4,"g":14.2,"v":3.3},{"r":4,"g":14.45,"v":3.6},{"r":4,"g":14.7,"v":3.8},{"r":4,"g":14.95,"v":4.0},{"r":4,"g":15.2,"v":4.1},{"r":4,"g":15.45,"v":4.3},{"r":4,"g":15.7,"v":4.5},{"r":4,"g":15.9,"v":4.3},{"r":4,"g":16.05,"v":3.5},{"r":4,"g":16.15,"v":2.9},{"r":4,"g":16.3,"v":2.2},{"r":4,"g":16.4,"v":1.6},{"r":4,"g":16.5,"v":1.2},{"r":4,"g":16.64,"v":0.9},{"r":4,"g":16.88,"v":0.4},{"r":4,"g":17.08,"v":-0.3},{"r":4,"g":17.18,"v":0},{"r":4,"g":17.23,"v":-3.2},{"r":4,"g":17.3,"v":-5.1},{"r":4,"g":17.45,"v":-2.2},{"r":4,"g":17.72,"v":-6.6},
{"r":4,"g":13.6,"v":2.65},{"r":4,"g":13.8,"v":2.8},{"r":4,"g":14.05,"v":3.1},{"r":4,"g":14.3,"v":3.45},{"r":4,"g":14.6,"v":3.7},{"r":4,"g":14.85,"v":3.9},{"r":4,"g":15.05,"v":4.05},{"r":4,"g":15.3,"v":4.2},{"r":4,"g":15.55,"v":4.4},{"r":4,"g":15.8,"v":4.4},
{"r":5,"g":10.24,"v":-3.4},{"r":5,"g":10.59,"v":-1.0},{"r":5,"g":10.84,"v":-0.7},{"r":5,"g":11.04,"v":-0.1},{"r":5,"g":11.2,"v":0.9},{"r":5,"g":11.5,"v":1.3},{"r":5,"g":11.8,"v":1.3},{"r":5,"g":12.0,"v":1.2},{"r":5,"g":12.2,"v":1.2},{"r":5,"g":12.4,"v":1.1},{"r":5,"g":12.6,"v":1.0},{"r":5,"g":12.8,"v":0.9},{"r":5,"g":13.0,"v":1.0},{"r":5,"g":13.2,"v":1.0},{"r":5,"g":13.4,"v":1.1},{"r":5,"g":13.5,"v":0.6},{"r":5,"g":13.6,"v":1.3},{"r":5,"g":13.8,"v":1.5},{"r":5,"g":14.0,"v":1.7},{"r":5,"g":14.1,"v":1.3},{"r":5,"g":14.2,"v":1.8},{"r":5,"g":14.4,"v":2.0},{"r":5,"g":14.6,"v":2.2},{"r":5,"g":14.7,"v":1.8},{"r":5,"g":14.8,"v":2.4},{"r":5,"g":15.0,"v":2.6},{"r":5,"g":15.2,"v":2.7},{"r":5,"g":15.3,"v":2.3},{"r":5,"g":15.4,"v":2.8},{"r":5,"g":15.6,"v":2.9},{"r":5,"g":15.7,"v":2.5},{"r":5,"g":15.8,"v":3.2},{"r":5,"g":15.9,"v":3.6},{"r":5,"g":16.0,"v":2.5},{"r":5,"g":16.1,"v":0.9},{"r":5,"g":16.2,"v":0},{"r":5,"g":16.3,"v":-1.4},{"r":5,"g":16.35,"v":-0.9},{"r":5,"g":16.4,"v":-2.0},{"r":5,"g":16.45,"v":-0.5},{"r":5,"g":16.5,"v":-1.8},{"r":5,"g":16.52,"v":-2.7},{"r":5,"g":16.64,"v":-2.7},{"r":5,"g":16.69,"v":-3.2},{"r":5,"g":16.79,"v":-2.3},{"r":5,"g":16.88,"v":-2.3},{"r":5,"g":17.03,"v":-4.6},{"r":5,"g":17.23,"v":-5.3},{"r":5,"g":17.53,"v":-2.1},{"r":5,"g":17.8,"v":-7.0},
{"r":5,"g":13.7,"v":1.4},{"r":5,"g":13.9,"v":1.6},{"r":5,"g":14.3,"v":1.9},{"r":5,"g":14.5,"v":2.1},{"r":5,"g":14.9,"v":2.5},{"r":5,"g":15.1,"v":2.65},{"r":5,"g":15.5,"v":2.85},{"r":5,"g":15.75,"v":3.0},{"r":5,"g":15.95,"v":3.2},{"r":5,"g":14.05,"v":1.2},{"r":5,"g":14.45,"v":1.6},{"r":5,"g":14.95,"v":2.0},{"r":5,"g":15.45,"v":2.4},{"r":5,"g":15.85,"v":2.6},
{"r":6,"g":10.68,"v":2.1},{"r":6,"g":11.21,"v":3.7},{"r":6,"g":11.56,"v":3.6},{"r":6,"g":11.82,"v":3.4},{"r":6,"g":12.05,"v":3.0},{"r":6,"g":12.2,"v":2.9},{"r":6,"g":12.35,"v":2.6},{"r":6,"g":12.5,"v":2.5},{"r":6,"g":12.65,"v":2.3},{"r":6,"g":12.85,"v":1.9},{"r":6,"g":13.0,"v":2.0},{"r":6,"g":13.2,"v":1.9},{"r":6,"g":13.44,"v":2.1},{"r":6,"g":13.6,"v":2.2},{"r":6,"g":13.78,"v":2.4},{"r":6,"g":14.0,"v":2.6},{"r":6,"g":14.18,"v":2.9},{"r":6,"g":14.4,"v":3.1},{"r":6,"g":14.62,"v":3.3},{"r":6,"g":14.8,"v":3.6},{"r":6,"g":15.0,"v":3.8},{"r":6,"g":15.2,"v":4.1},{"r":6,"g":15.46,"v":4.5},{"r":6,"g":15.6,"v":4.7},{"r":6,"g":15.7,"v":5.2},{"r":6,"g":15.8,"v":4.8},{"r":6,"g":15.9,"v":4.5},{"r":6,"g":16.05,"v":3.6},{"r":6,"g":16.15,"v":2.7},{"r":6,"g":16.25,"v":1.8},{"r":6,"g":16.3,"v":0.1},{"r":6,"g":16.4,"v":1.4},{"r":6,"g":16.5,"v":0},{"r":6,"g":16.54,"v":0.9},{"r":6,"g":16.69,"v":1.4},{"r":6,"g":16.79,"v":-0.7},{"r":6,"g":16.8,"v":-4.2},{"r":6,"g":16.95,"v":-0.9},{"r":6,"g":17.06,"v":-3.3},{"r":6,"g":17.18,"v":-2.4},{"r":6,"g":17.38,"v":-2.7},
{"r":6,"g":13.7,"v":2.3},{"r":6,"g":13.9,"v":2.5},{"r":6,"g":14.1,"v":2.75},{"r":6,"g":14.3,"v":3.0},{"r":6,"g":14.5,"v":3.2},{"r":6,"g":14.7,"v":3.45},{"r":6,"g":14.9,"v":3.7},{"r":6,"g":15.1,"v":3.95},{"r":6,"g":15.3,"v":4.3},{"r":6,"g":15.55,"v":4.6},{"r":6,"g":15.65,"v":5.0},{"r":6,"g":15.75,"v":4.9}
]},
"mark":{"type":"point","filled":false,"strokeWidth":1.3,"size":100,"opacity":0.9,"clip":true},
"encoding":{
"x":{"field":"g","type":"quantitative","scale":{"domain":[10,18],"nice":false,"zero":false},"axis":{"values":[10,11,12,13,14,15,16,17,18],"format":"d","title":"G magnitude"}},
"y":{"field":"v","type":"quantitative","scale":{"domain":[-10,10],"nice":false,"zero":false},"axis":{"values":[-10,-7.5,-5,-2.5,0,2.5,5,7.5,10],"format":".1f","title":"Δα*(UCAC5-GaiaDR2)(mas)"}},
"color":{"field":"r","type":"nominal","scale":{"domain":[1,2,3,4,5,6],"range":["#800080","#00bfbf","#008000","#ffff00","#ffa500","#ff0000"]},"legend":{"orient":"bottom-left","title":null,"labelExpr":"['','(60°,90°)','(30°,60°)','(0°,30°)','(−30°,0°)','(−60°, −30°)','(−90°, −60°)'][datum.value]"}},
"shape":{"field":"r","type":"nominal","scale":{"domain":[1,2,3,4,5,6],"range":["M0,0L0,1M0,0L-0.87,-0.5M0,0L0.87,-0.5","M0,0L0,-1M0,0L-0.87,0.5M0,0L0.87,0.5","M0,0L-1,0M0,0L0.5,-0.87M0,0L0.5,0.87","M0,0L1,0M0,0L-0.5,-0.87M0,0L-0.5,0.87","M0,-1.2L0,1.2","M-1,0L1,0M0,-1L0,1"]},"legend":{"orient":"bottom-left","title":null,"labelExpr":"['','(60°,90°)','(30°,60°)','(0°,30°)','(−30°,0°)','(−60°, −30°)','(−90°, −60°)'][datum.value]"}}
}
},
{
"width":542,"height":293,
"data":{"values":[
{"r":1,"g":11.08,"v":-0.35},{"r":1,"g":11.72,"v":-0.6},{"r":1,"g":12.12,"v":-0.6},{"r":1,"g":12.4,"v":-0.5},{"r":1,"g":12.65,"v":-0.65},{"r":1,"g":12.9,"v":-0.65},{"r":1,"g":13.1,"v":-0.7},{"r":1,"g":13.3,"v":-0.9},{"r":1,"g":13.5,"v":-1.1},{"r":1,"g":13.66,"v":-1.5},{"r":1,"g":13.85,"v":-1.6},{"r":1,"g":14.0,"v":-1.8},{"r":1,"g":14.15,"v":-2.0},{"r":1,"g":14.33,"v":-2.2},{"r":1,"g":14.5,"v":-2.4},{"r":1,"g":14.63,"v":-2.5},{"r":1,"g":14.83,"v":-2.4},{"r":1,"g":15.0,"v":-2.3},{"r":1,"g":15.13,"v":-2.2},{"r":1,"g":15.31,"v":-2.1},{"r":1,"g":15.45,"v":-1.8},{"r":1,"g":15.57,"v":-1.5},{"r":1,"g":15.7,"v":-1.9},{"r":1,"g":15.8,"v":-2.0},{"r":1,"g":15.95,"v":-2.0},{"r":1,"g":16.0,"v":-3.0},{"r":1,"g":16.1,"v":-1.4},{"r":1,"g":16.3,"v":-1.0},{"r":1,"g":16.4,"v":-2.7},{"r":1,"g":16.5,"v":-1.2},{"r":1,"g":16.7,"v":-1.3},{"r":1,"g":16.8,"v":-1.4},{"r":1,"g":17.1,"v":3.3},
{"r":1,"g":13.6,"v":-1.3},{"r":1,"g":13.75,"v":-1.55},{"r":1,"g":13.95,"v":-1.7},{"r":1,"g":14.1,"v":-1.9},{"r":1,"g":14.25,"v":-2.1},{"r":1,"g":14.4,"v":-2.3},{"r":1,"g":14.55,"v":-2.45},{"r":1,"g":14.7,"v":-2.45},{"r":1,"g":14.9,"v":-2.35},{"r":1,"g":15.05,"v":-2.25},{"r":1,"g":15.2,"v":-2.15},{"r":1,"g":15.38,"v":-1.95},{"r":1,"g":15.5,"v":-1.65},{"r":1,"g":15.65,"v":-1.7},{"r":1,"g":15.88,"v":-2.0},{"r":1,"g":16.2,"v":-1.2},
{"r":2,"g":10.4,"v":0.75},{"r":2,"g":10.74,"v":0.35},{"r":2,"g":11.0,"v":-0.3},{"r":2,"g":11.2,"v":-0.4},{"r":2,"g":11.43,"v":-0.6},{"r":2,"g":11.56,"v":-0.6},{"r":2,"g":11.84,"v":-0.3},{"r":2,"g":12.1,"v":-0.1},{"r":2,"g":12.3,"v":0},{"r":2,"g":12.46,"v":0},{"r":2,"g":12.7,"v":-0.1},{"r":2,"g":12.95,"v":0},{"r":2,"g":13.2,"v":-0.3},{"r":2,"g":13.44,"v":-0.6},{"r":2,"g":13.69,"v":-0.95},{"r":2,"g":13.94,"v":-1.3},{"r":2,"g":14.13,"v":-1.4},{"r":2,"g":14.33,"v":-1.6},{"r":2,"g":14.55,"v":-1.8},{"r":2,"g":14.83,"v":-1.85},{"r":2,"g":15.0,"v":-1.6},{"r":2,"g":15.2,"v":-1.2},{"r":2,"g":15.35,"v":-0.8},{"r":2,"g":15.47,"v":-0.5},{"r":2,"g":15.6,"v":-0.4},{"r":2,"g":15.72,"v":-0.25},{"r":2,"g":15.8,"v":-0.7},{"r":2,"g":15.9,"v":0},{"r":2,"g":16.1,"v":0.4},{"r":2,"g":16.2,"v":-0.3},{"r":2,"g":16.3,"v":0.9},{"r":2,"g":16.36,"v":5.7},{"r":2,"g":16.5,"v":0.4},{"r":2,"g":16.8,"v":3.8},{"r":2,"g":16.9,"v":6.1},{"r":2,"g":16.95,"v":5.5},{"r":2,"g":17.1,"v":6.7},{"r":2,"g":17.24,"v":6.2},{"r":2,"g":17.33,"v":9.9},
{"r":2,"g":13.55,"v":-0.8},{"r":2,"g":13.8,"v":-1.1},{"r":2,"g":14.0,"v":-1.35},{"r":2,"g":14.23,"v":-1.5},{"r":2,"g":14.45,"v":-1.7},{"r":2,"g":14.7,"v":-1.85},{"r":2,"g":14.92,"v":-1.75},{"r":2,"g":15.1,"v":-1.4},{"r":2,"g":15.27,"v":-1.0},{"r":2,"g":15.4,"v":-0.65},{"r":2,"g":15.55,"v":-0.45},{"r":2,"g":15.65,"v":-0.3},{"r":2,"g":15.85,"v":-0.1},{"r":2,"g":16.0,"v":0.2},{"r":2,"g":16.15,"v":0.5},{"r":2,"g":16.25,"v":0.7},{"r":2,"g":16.4,"v":0.6},
{"r":3,"g":10.32,"v":0.75},{"r":3,"g":10.69,"v":0.4},{"r":3,"g":10.95,"v":0.4},{"r":3,"g":11.15,"v":0.4},{"r":3,"g":11.33,"v":0.45},{"r":3,"g":11.5,"v":0.6},{"r":3,"g":11.63,"v":0.7},{"r":3,"g":11.77,"v":0.7},{"r":3,"g":11.95,"v":0.9},{"r":3,"g":12.1,"v":1.1},{"r":3,"g":12.23,"v":1.2},{"r":3,"g":12.46,"v":1.4},{"r":3,"g":12.7,"v":1.6},{"r":3,"g":12.95,"v":1.7},{"r":3,"g":13.2,"v":1.8},{"r":3,"g":13.44,"v":1.7},{"r":3,"g":13.69,"v":1.45},{"r":3,"g":13.94,"v":1.2},{"r":3,"g":14.13,"v":1.0},{"r":3,"g":14.33,"v":0.9},{"r":3,"g":14.6,"v":0.6},{"r":3,"g":14.83,"v":0.4},{"r":3,"g":15.05,"v":0.2},{"r":3,"g":15.31,"v":0.07},{"r":3,"g":15.5,"v":0.1},{"r":3,"g":15.72,"v":0.2},{"r":3,"g":15.95,"v":1.1},{"r":3,"g":16.15,"v":1.8},{"r":3,"g":16.35,"v":2.3},{"r":3,"g":16.55,"v":2.9},{"r":3,"g":16.74,"v":3.8},{"r":3,"g":16.98,"v":3.2},{"r":3,"g":17.1,"v":2.9},{"r":3,"g":17.15,"v":0.4},{"r":3,"g":17.18,"v":2.1},{"r":3,"g":17.28,"v":2.1},{"r":3,"g":17.5,"v":3.4},{"r":3,"g":17.9,"v":6.1},
{"r":3,"g":13.55,"v":1.6},{"r":3,"g":13.8,"v":1.35},{"r":3,"g":14.0,"v":1.1},{"r":3,"g":14.23,"v":0.95},{"r":3,"g":14.45,"v":0.75},{"r":3,"g":14.7,"v":0.5},{"r":3,"g":14.95,"v":0.3},{"r":3,"g":15.2,"v":0.1},{"r":3,"g":15.4,"v":0.1},{"r":3,"g":15.6,"v":0.15},{"r":3,"g":15.85,"v":0.6},{"r":3,"g":16.05,"v":1.5},{"r":3,"g":16.25,"v":2.1},{"r":3,"g":16.45,"v":2.6},{"r":3,"g":16.65,"v":3.3},
{"r":4,"g":10.3,"v":0.4},{"r":4,"g":10.67,"v":0},{"r":4,"g":10.93,"v":-0.1},{"r":4,"g":11.26,"v":0},{"r":4,"g":11.47,"v":0.2},{"r":4,"g":11.58,"v":0.3},{"r":4,"g":11.82,"v":0.3},{"r":4,"g":12.05,"v":0.6},{"r":4,"g":12.2,"v":0.8},{"r":4,"g":12.46,"v":0.75},{"r":4,"g":12.7,"v":1.0},{"r":4,"g":12.95,"v":1.35},{"r":4,"g":13.2,"v":1.45},{"r":4,"g":13.44,"v":1.4},{"r":4,"g":13.69,"v":1.3},{"r":4,"g":13.94,"v":1.2},{"r":4,"g":14.13,"v":1.1},{"r":4,"g":14.33,"v":1.2},{"r":4,"g":14.6,"v":1.1},{"r":4,"g":14.83,"v":1.0},{"r":4,"g":15.05,"v":0.95},{"r":4,"g":15.31,"v":0.9},{"r":4,"g":15.55,"v":1.1},{"r":4,"g":15.8,"v":1.4},{"r":4,"g":16.05,"v":1.8},{"r":4,"g":16.3,"v":1.8},{"r":4,"g":16.5,"v":1.4},{"r":4,"g":16.7,"v":0},{"r":4,"g":16.74,"v":-2.1},{"r":4,"g":16.8,"v":-0.5},{"r":4,"g":16.94,"v":-1.3},{"r":4,"g":17.05,"v":-0.3},{"r":4,"g":17.16,"v":-1.4},{"r":4,"g":17.24,"v":-3.7},{"r":4,"g":17.28,"v":-2.9},{"r":4,"g":17.46,"v":-1.8},{"r":4,"g":17.72,"v":-8.8},
{"r":4,"g":13.55,"v":1.35},{"r":4,"g":13.8,"v":1.25},{"r":4,"g":14.0,"v":1.15},{"r":4,"g":14.23,"v":1.15},{"r":4,"g":14.45,"v":1.15},{"r":4,"g":14.7,"v":1.05},{"r":4,"g":14.95,"v":1.0},{"r":4,"g":15.2,"v":0.9},{"r":4,"g":15.43,"v":1.0},{"r":4,"g":15.68,"v":1.25},{"r":4,"g":15.92,"v":1.6},{"r":4,"g":16.18,"v":1.8},{"r":4,"g":16.4,"v":1.6},
{"r":5,"g":10.26,"v":3.2},{"r":5,"g":10.59,"v":2.7},{"r":5,"g":10.84,"v":2.5},{"r":5,"g":11.04,"v":2.5},{"r":5,"g":11.33,"v":2.5},{"r":5,"g":11.47,"v":2.7},{"r":5,"g":11.72,"v":3.1},{"r":5,"g":11.95,"v":3.0},{"r":5,"g":12.1,"v":3.3},{"r":5,"g":12.23,"v":3.7},{"r":5,"g":12.36,"v":3.4},{"r":5,"g":12.5,"v":3.5},{"r":5,"g":12.7,"v":3.6},{"r":5,"g":12.9,"v":3.6},{"r":5,"g":13.1,"v":3.5},{"r":5,"g":13.3,"v":3.6},{"r":5,"g":13.5,"v":3.5},{"r":5,"g":13.7,"v":3.4},{"r":5,"g":13.9,"v":3.4},{"r":5,"g":14.1,"v":3.3},{"r":5,"g":14.33,"v":3.3},{"r":5,"g":14.6,"v":3.2},{"r":5,"g":14.83,"v":3.2},{"r":5,"g":15.05,"v":3.2},{"r":5,"g":15.2,"v":2.7},{"r":5,"g":15.31,"v":3.2},{"r":5,"g":15.5,"v":3.4},{"r":5,"g":15.6,"v":2.8},{"r":5,"g":15.72,"v":3.6},{"r":5,"g":15.85,"v":4.0},{"r":5,"g":15.95,"v":4.3},{"r":5,"g":16.0,"v":3.0},{"r":5,"g":16.1,"v":4.8},{"r":5,"g":16.15,"v":5.2},{"r":5,"g":16.2,"v":3.5},{"r":5,"g":16.25,"v":5.2},{"r":5,"g":16.27,"v":5.7},{"r":5,"g":16.35,"v":2.8},{"r":5,"g":16.4,"v":4.1},{"r":5,"g":16.55,"v":3.6},{"r":5,"g":16.7,"v":2.9},{"r":5,"g":16.8,"v":2.7},{"r":5,"g":16.9,"v":1.8},{"r":5,"g":17.0,"v":0.9},{"r":5,"g":17.1,"v":0.2},{"r":5,"g":17.4,"v":-3.4},{"r":5,"g":17.55,"v":-3.4},
{"r":5,"g":13.6,"v":3.45},{"r":5,"g":13.8,"v":3.4},{"r":5,"g":14.0,"v":3.35},{"r":5,"g":14.2,"v":3.3},{"r":5,"g":14.45,"v":3.25},{"r":5,"g":14.7,"v":3.2},{"r":5,"g":14.95,"v":3.2},{"r":5,"g":15.15,"v":3.2},{"r":5,"g":15.4,"v":3.3},{"r":5,"g":15.65,"v":3.5},{"r":5,"g":15.78,"v":3.8},{"r":5,"g":15.9,"v":4.2},{"r":5,"g":16.05,"v":4.5},{"r":5,"g":16.3,"v":4.6},{"r":5,"g":16.45,"v":3.9},{"r":5,"g":14.05,"v":3.0},{"r":5,"g":14.65,"v":2.9},{"r":5,"g":15.35,"v":2.9},
{"r":6,"g":10.69,"v":2.5},{"r":6,"g":11.21,"v":2.5},{"r":6,"g":11.55,"v":2.8},{"r":6,"g":11.82,"v":3.0},{"r":6,"g":12.05,"v":3.2},{"r":6,"g":12.2,"v":3.6},{"r":6,"g":12.36,"v":3.75},{"r":6,"g":12.51,"v":4.0},{"r":6,"g":12.7,"v":4.0},{"r":6,"g":12.85,"v":3.8},{"r":6,"g":13.0,"v":4.1},{"r":6,"g":13.2,"v":4.4},{"r":6,"g":13.44,"v":4.3},{"r":6,"g":13.69,"v":4.45},{"r":6,"g":13.94,"v":4.5},{"r":6,"g":14.13,"v":4.6},{"r":6,"g":14.33,"v":4.5},{"r":6,"g":14.58,"v":4.6},{"r":6,"g":14.83,"v":4.5},{"r":6,"g":15.0,"v":4.6},{"r":6,"g":15.2,"v":4.8},{"r":6,"g":15.4,"v":5.2},{"r":6,"g":15.57,"v":5.7},{"r":6,"g":15.72,"v":6.2},{"r":6,"g":15.86,"v":6.8},{"r":6,"g":15.95,"v":8.2},{"r":6,"g":16.0,"v":7.5},{"r":6,"g":16.1,"v":7.3},{"r":6,"g":16.15,"v":8.2},{"r":6,"g":16.25,"v":9.3},{"r":6,"g":16.3,"v":8.5},{"r":6,"g":16.35,"v":7.9},{"r":6,"g":16.46,"v":5.9},{"r":6,"g":16.5,"v":7.3},{"r":6,"g":16.6,"v":8.4},{"r":6,"g":16.65,"v":8.6},{"r":6,"g":16.7,"v":7.0},{"r":6,"g":16.8,"v":5.5},{"r":6,"g":16.83,"v":5.5},{"r":6,"g":16.94,"v":4.5},{"r":6,"g":16.98,"v":5.9},{"r":6,"g":17.05,"v":4.2},{"r":6,"g":17.18,"v":3.8},{"r":6,"g":17.38,"v":4.45},
{"r":6,"g":13.55,"v":4.4},{"r":6,"g":13.8,"v":4.5},{"r":6,"g":14.05,"v":4.55},{"r":6,"g":14.23,"v":4.55},{"r":6,"g":14.45,"v":4.55},{"r":6,"g":14.7,"v":4.55},{"r":6,"g":14.92,"v":4.55},{"r":6,"g":15.1,"v":4.7},{"r":6,"g":15.3,"v":5.0},{"r":6,"g":15.48,"v":5.4},{"r":6,"g":15.65,"v":5.9},{"r":6,"g":15.8,"v":6.5},{"r":6,"g":16.05,"v":7.8},{"r":6,"g":16.2,"v":8.6},{"r":6,"g":16.4,"v":8.0},{"r":6,"g":16.55,"v":8.0}
]},
"mark":{"type":"point","filled":false,"strokeWidth":1.3,"size":100,"opacity":0.9,"clip":true},
"encoding":{
"x":{"field":"g","type":"quantitative","scale":{"domain":[10,18],"nice":false,"zero":false},"axis":{"values":[10,11,12,13,14,15,16,17,18],"format":"d","title":"G magnitude"}},
"y":{"field":"v","type":"quantitative","scale":{"domain":[-10,10],"nice":false,"zero":false},"axis":{"values":[-10,-7.5,-5,-2.5,0,2.5,5,7.5,10],"format":".1f","title":"Δδ(UCAC5-GaiaDR2)(mas)"}},
"color":{"field":"r","type":"nominal","scale":{"domain":[1,2,3,4,5,6],"range":["#800080","#00bfbf","#008000","#ffff00","#ffa500","#ff0000"]},"legend":{"orient":"top-left","title":null,"labelExpr":"['','(60°,90°)','(30°,60°)','(0°,30°)','(−30°,0°)','(−60°, −30°)','(−90°, −60°)'][datum.value]"}},
"shape":{"field":"r","type":"nominal","scale":{"domain":[1,2,3,4,5,6],"range":["M0,0L0,1M0,0L-0.87,-0.5M0,0L0.87,-0.5","M0,0L0,-1M0,0L-0.87,0.5M0,0L0.87,0.5","M0,0L-1,0M0,0L0.5,-0.87M0,0L0.5,0.87","M0,0L1,0M0,0L-0.5,-0.87M0,0L-0.5,0.87","M0,-1.2L0,1.2","M-1,0L1,0M0,-1L0,1"]},"legend":{"orient":"top-left","title":null,"labelExpr":"['','(60°,90°)','(30°,60°)','(0°,30°)','(−30°,0°)','(−60°, −30°)','(−90°, −60°)'][datum.value]"}}
}
}
]
}
